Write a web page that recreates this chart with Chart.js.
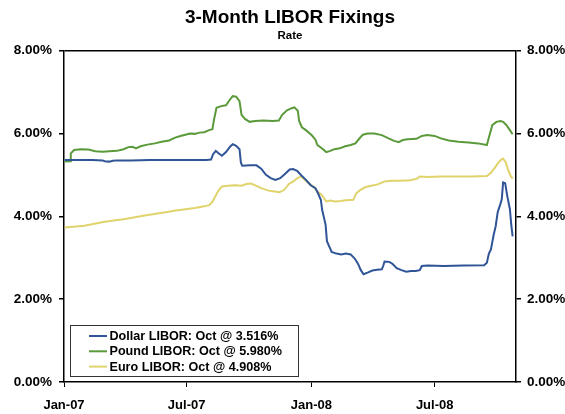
<!DOCTYPE html>
<html>
<head>
<meta charset="utf-8">
<title>3-Month LIBOR Fixings</title>
<script src="https://cdn.jsdelivr.net/npm/chart.js@4"></script>
<style>
  html, body { margin: 0; padding: 0; background: #fff; }
  #wrap { width: 565px; height: 414px; }
</style>
</head>
<body>
<div id="wrap"><canvas id="chart" width="565" height="414"></canvas></div>
<script>
// Daily 3M LIBOR fixings (date, rate in %)
const usdDates = ['2007-01-02','2007-01-22','2007-02-12','2007-02-27','2007-03-02','2007-03-09','2007-03-14','2007-03-21','2007-04-10','2007-05-08','2007-06-12','2007-07-10','2007-07-30','2007-08-06','2007-08-09','2007-08-13','2007-08-17','2007-08-22','2007-08-28','2007-09-03','2007-09-07','2007-09-12','2007-09-17','2007-09-19','2007-09-21','2007-10-03','2007-10-12','2007-10-19','2007-10-26','2007-11-02','2007-11-09','2007-11-16','2007-11-23','2007-11-30','2007-12-05','2007-12-11','2007-12-17','2007-12-24','2007-12-31','2008-01-07','2008-01-11','2008-01-15','2008-01-17','2008-01-22','2008-01-24','2008-01-28','2008-01-31','2008-02-07','2008-02-14','2008-02-21','2008-02-28','2008-03-05','2008-03-10','2008-03-14','2008-03-18','2008-03-24','2008-03-31','2008-04-07','2008-04-14','2008-04-16','2008-04-18','2008-04-25','2008-04-30','2008-05-06','2008-05-13','2008-05-20','2008-05-27','2008-06-03','2008-06-09','2008-06-12','2008-06-20','2008-07-15','2008-08-12','2008-09-12','2008-09-16','2008-09-19','2008-09-22','2008-09-26','2008-09-29','2008-10-02','2008-10-06','2008-10-08','2008-10-10','2008-10-13','2008-10-16','2008-10-20','2008-10-22','2008-10-24'];
const usdRates = [5.36,5.36,5.36,5.35,5.33,5.32,5.34,5.35,5.35,5.36,5.36,5.36,5.36,5.37,5.50,5.58,5.52,5.46,5.55,5.68,5.74,5.70,5.62,5.30,5.22,5.23,5.23,5.15,5.00,4.92,4.88,4.92,5.02,5.13,5.14,5.10,4.99,4.88,4.75,4.68,4.55,4.40,4.15,3.80,3.40,3.25,3.14,3.10,3.08,3.10,3.08,2.98,2.85,2.70,2.60,2.64,2.69,2.71,2.72,2.80,2.91,2.90,2.85,2.75,2.70,2.66,2.68,2.68,2.70,2.80,2.81,2.80,2.81,2.82,2.88,3.10,3.20,3.55,3.76,4.10,4.30,4.41,4.82,4.80,4.50,4.17,3.80,3.516];

const gbpDates = ['2007-01-02','2007-01-10','2007-01-11','2007-01-16','2007-01-26','2007-02-06','2007-02-16','2007-02-27','2007-03-09','2007-03-20','2007-03-30','2007-04-06','2007-04-12','2007-04-17','2007-04-24','2007-05-04','2007-05-15','2007-05-25','2007-06-05','2007-06-14','2007-06-22','2007-06-29','2007-07-06','2007-07-13','2007-07-20','2007-07-27','2007-08-03','2007-08-08','2007-08-10','2007-08-14','2007-08-21','2007-08-28','2007-09-03','2007-09-07','2007-09-12','2007-09-17','2007-09-20','2007-09-25','2007-10-02','2007-10-10','2007-10-22','2007-11-05','2007-11-14','2007-11-19','2007-11-26','2007-12-03','2007-12-07','2007-12-12','2007-12-14','2007-12-18','2007-12-24','2008-01-02','2008-01-07','2008-01-10','2008-01-16','2008-01-23','2008-01-29','2008-02-04','2008-02-12','2008-02-20','2008-02-28','2008-03-06','2008-03-11','2008-03-17','2008-03-24','2008-04-03','2008-04-14','2008-04-24','2008-05-02','2008-05-09','2008-05-15','2008-05-22','2008-06-04','2008-06-12','2008-06-20','2008-07-01','2008-07-10','2008-07-22','2008-08-05','2008-08-20','2008-09-03','2008-09-16','2008-09-19','2008-09-24','2008-09-30','2008-10-06','2008-10-10','2008-10-15','2008-10-20','2008-10-24'];
const gbpRates = [5.32,5.33,5.52,5.60,5.62,5.61,5.57,5.56,5.57,5.58,5.62,5.67,5.68,5.64,5.69,5.73,5.76,5.80,5.83,5.90,5.94,5.97,6.00,5.99,6.02,6.03,6.08,6.10,6.30,6.62,6.66,6.68,6.82,6.90,6.89,6.78,6.45,6.35,6.28,6.30,6.31,6.30,6.31,6.45,6.56,6.61,6.63,6.55,6.30,6.15,6.08,5.95,5.85,5.72,5.65,5.55,5.58,5.62,5.64,5.69,5.72,5.76,5.86,5.97,6.00,6.00,5.96,5.88,5.82,5.79,5.84,5.86,5.87,5.94,5.96,5.94,5.88,5.83,5.80,5.78,5.76,5.72,5.90,6.20,6.28,6.30,6.28,6.20,6.08,5.98];

const eurDates = ['2007-01-02','2007-01-31','2007-02-28','2007-03-15','2007-03-30','2007-04-30','2007-05-31','2007-06-15','2007-06-29','2007-07-13','2007-07-27','2007-08-03','2007-08-08','2007-08-13','2007-08-17','2007-08-22','2007-08-31','2007-09-10','2007-09-20','2007-09-27','2007-10-04','2007-10-11','2007-10-19','2007-10-30','2007-11-08','2007-11-15','2007-11-22','2007-11-29','2007-12-06','2007-12-12','2007-12-17','2007-12-21','2007-12-28','2008-01-04','2008-01-10','2008-01-16','2008-01-23','2008-01-29','2008-02-05','2008-02-13','2008-02-21','2008-03-03','2008-03-07','2008-03-12','2008-03-20','2008-03-28','2008-04-08','2008-04-18','2008-04-28','2008-05-12','2008-05-26','2008-06-05','2008-06-09','2008-06-20','2008-07-10','2008-08-05','2008-08-25','2008-09-16','2008-09-22','2008-09-29','2008-10-03','2008-10-08','2008-10-10','2008-10-14','2008-10-17','2008-10-21','2008-10-24'];
const eurRates = [3.73,3.77,3.86,3.90,3.93,4.02,4.10,4.14,4.17,4.20,4.24,4.27,4.35,4.50,4.62,4.72,4.74,4.75,4.74,4.78,4.79,4.74,4.68,4.62,4.60,4.58,4.64,4.78,4.85,4.93,4.96,4.90,4.80,4.72,4.60,4.52,4.36,4.38,4.36,4.37,4.39,4.40,4.55,4.62,4.70,4.73,4.77,4.84,4.86,4.86,4.87,4.91,4.96,4.95,4.96,4.96,4.96,4.97,5.05,5.20,5.30,5.38,5.39,5.30,5.14,4.98,4.908];

const seriesNames = ['Dollar', 'Pound', 'Euro'];
const seriesColors = ['#2f5597', '#5b9a3a', '#e0d36c'];

// x axis: days since 1 Jan 2007
const tickDays = [0, 181, 365, 547];
const tickLabels = ['Jan-07', 'Jul-07', 'Jan-08', 'Jul-08'];
const xEnd = 667;

const yTicks = [0, 2, 4, 6, 8];

const FONT = "'Liberation Sans', Arial, Helvetica, sans-serif";

function dayIndex(s) {
  const [y, m, d] = s.split('-').map(Number);
  return (Date.UTC(y, m - 1, d) - Date.UTC(2007, 0, 1)) / 864e5;
}

function toPoints(dates, rates) {
  return dates.map((d, i) => ({ x: dayIndex(d), y: rates[i] }));
}

const allRates = [usdRates, gbpRates, eurRates];
const datasets = [
  toPoints(usdDates, usdRates),
  toPoints(gbpDates, gbpRates),
  toPoints(eurDates, eurRates),
].map((pts, i) => ({
  label: `${seriesNames[i]} LIBOR: Oct @ ${allRates[i][allRates[i].length - 1].toFixed(3)}%`,
  data: pts,
  borderColor: seriesColors[i],
  borderWidth: 2,
  pointRadius: 0,
  tension: 0,
  yAxisID: 'y',
}));

// boxed legend in the lower-left corner of the plot
const boxLegend = {
  id: 'boxLegend',
  afterDatasetsDraw(chart) {
    const { ctx, chartArea } = chart;
    const w = 228, h = 51;
    const left = chartArea.left + 6;
    const top = chartArea.bottom - 6 - h;
    ctx.save();
    ctx.fillStyle = '#fff';
    ctx.fillRect(left, top, w, h);
    ctx.strokeStyle = '#333';
    ctx.lineWidth = 1;
    ctx.strokeRect(left + 0.5, top + 0.5, w, h);
    ctx.font = `bold 12.6px ${FONT}`;
    ctx.textBaseline = 'middle';
    chart.data.datasets.forEach((ds, i) => {
      const y = top + 11 + i * 15.3;
      ctx.strokeStyle = ds.borderColor;
      ctx.lineWidth = 2;
      ctx.beginPath();
      ctx.moveTo(left + 19, y);
      ctx.lineTo(left + 37, y);
      ctx.stroke();
      ctx.fillStyle = '#000';
      ctx.fillText(ds.label, left + 39.5, y + 0.5);
    });
    ctx.restore();
  },
};

const yAxis = (position, width) => ({
  type: 'linear',
  position,
  min: 0,
  max: 8,
  afterBuildTicks: (s) => { s.ticks = yTicks.map((v) => ({ value: v })); },
  afterFit: (s) => { s.width = width; },
  border: { display: true, color: '#000', width: 1.5 },
  grid: {
    drawOnChartArea: position === 'left',
    color: (c) => (c.tick && c.tick.value === 8 ? '#000' : 'rgba(0,0,0,0)'),
    lineWidth: 1.5,
    tickColor: '#000',
    tickLength: 5,
  },
  ticks: {
    color: '#000',
    padding: position === 'left' ? 7 : 6,
    font: { family: FONT, size: 13.5, weight: 'bold' },
    callback: (v) => v.toFixed(2) + '%',
  },
});

new Chart(document.getElementById('chart'), {
  type: 'line',
  data: { datasets },
  plugins: [boxLegend],
  options: {
    responsive: false,
    animation: false,
    layout: { padding: 0 },
    plugins: {
      legend: { display: false },
      tooltip: { enabled: false },
      title: {
        display: true,
        text: '3-Month LIBOR Fixings',
        color: '#000',
        fullSize: false,
        font: { family: FONT, size: 19, weight: 'bold', lineHeight: 1.2 },
        padding: { top: 6, bottom: 0 },
      },
      subtitle: {
        display: true,
        text: 'Rate',
        color: '#000',
        fullSize: false,
        font: { family: FONT, size: 11.5, weight: 'bold', lineHeight: 1.2 },
        padding: { top: 0, bottom: 8 },
      },
    },
    scales: {
      x: {
        type: 'linear',
        min: 0,
        max: xEnd,
        afterBuildTicks: (s) => { s.ticks = tickDays.map((v) => ({ value: v })); },
        afterFit: (s) => { s.height = 32; },
        border: { display: true, color: '#000', width: 1.5 },
        grid: { drawOnChartArea: false, tickColor: '#000', tickLength: 5 },
        ticks: {
          color: '#000',
          padding: 11,
          maxRotation: 0,
          font: { family: FONT, size: 13, weight: 'bold' },
          callback: (v) => tickLabels[tickDays.indexOf(v)],
        },
      },
      y: yAxis('left', 64),
      y2: yAxis('right', 49),
    },
  },
});
</script>
</body>
</html>
